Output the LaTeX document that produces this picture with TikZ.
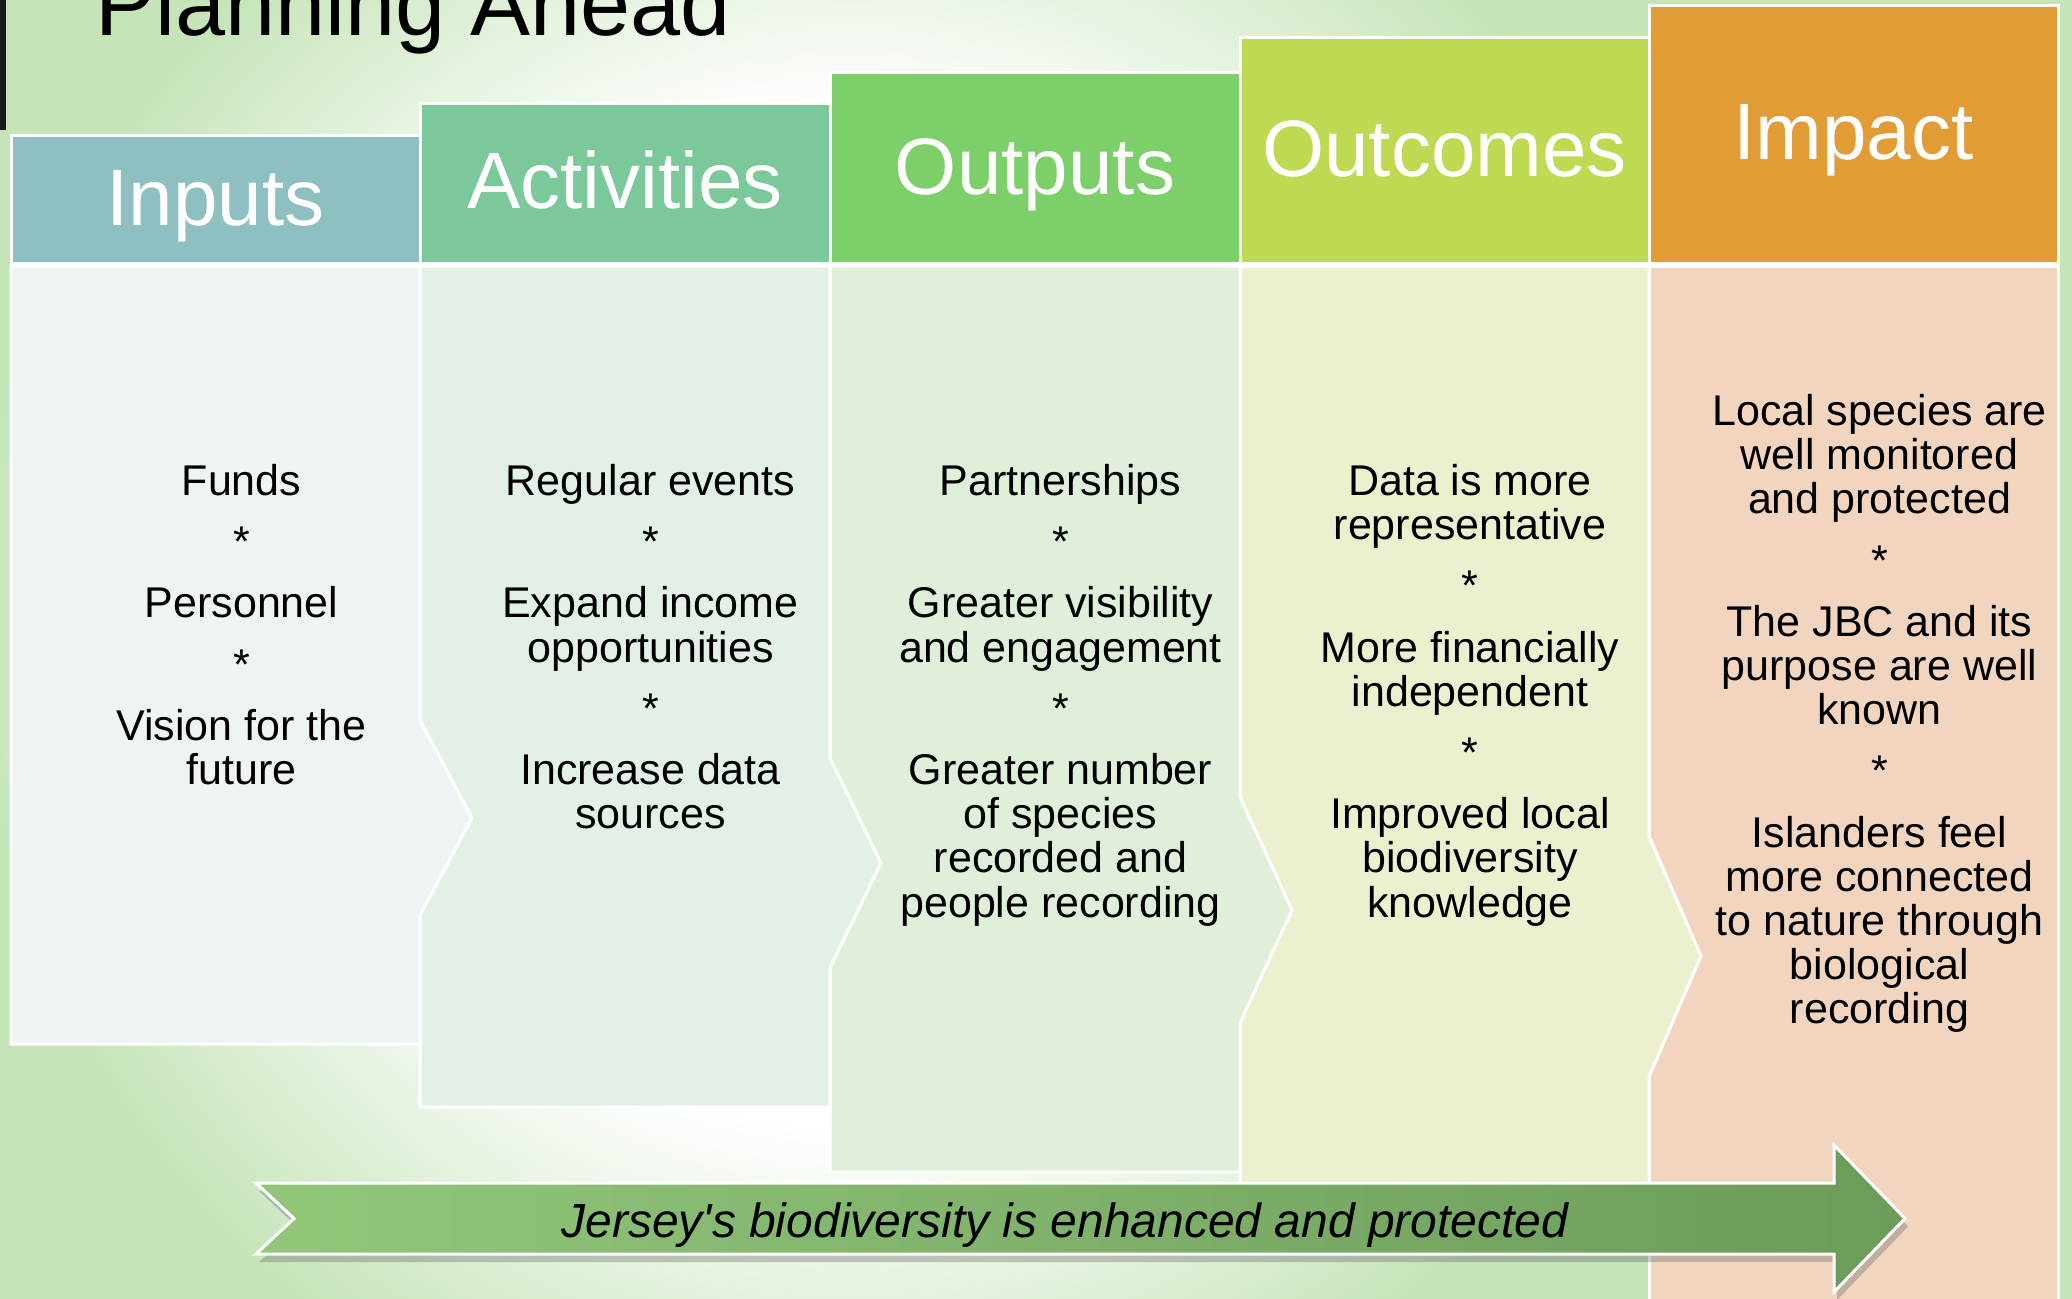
\documentclass[tikz,border=0pt]{standalone}
\usepackage{fontspec}
\setmainfont{Liberation Sans}
\usetikzlibrary{shadows}
\definecolor{bggreen}{HTML}{C5E4B8}
\definecolor{inhead}{HTML}{8FC0C1}
\definecolor{acthead}{HTML}{7BC89A}
\definecolor{outhead}{HTML}{7DCF6A}
\definecolor{ocmhead}{HTML}{BED952}
\definecolor{imphead}{HTML}{E19C36}
\definecolor{inbody}{HTML}{EEF4F3}
\definecolor{actbody}{HTML}{E3F0E6}
\definecolor{outbody}{HTML}{DFEFD9}
\definecolor{ocmbody}{HTML}{ECF0CF}
\definecolor{impbody}{HTML}{F1D5BF}
\definecolor{arrowlight}{HTML}{92C77A}
\definecolor{arrowdark}{HTML}{6C9B5A}
\pgfdeclareradialshading{bgshade}{\pgfpoint{0bp}{0bp}}{color(0bp)=(white); color(5.7bp)=(white); color(10bp)=(bggreen); color(50bp)=(bggreen)}
\tikzset{
  colbody/.style={draw=white, line width=1.5pt, line join=miter},
  colhead/.style={draw=white, line width=1.5pt},
  headtext/.style={text=white, font=\fontsize{40}{48}\selectfont, anchor=base, inner sep=0pt},
  bodytext/.style={align=center, anchor=north, inner sep=0pt, font=\fontsize{21.5}{22.1}\selectfont},
  bigarrow/.style={draw=white, line width=1.5pt, line join=miter, left color=arrowlight, right color=arrowdark,
    drop shadow={shadow xshift=1.5pt, shadow yshift=-4pt, opacity=0.35, fill=black!60}},
}
\begin{document}
\begin{tikzpicture}[x=0.5pt,y=-0.5pt]
\useasboundingbox (0,0) rectangle (2072,1298);
\clip (0,0) rectangle (2072,1298);
% background
\fill[bggreen] (0,0) rectangle (2072,1298);
\shade[shading=bgshade] (850,620) circle (1100pt);
\fill[black!90] (0,0) rectangle (6,130);
% title
\node[anchor=base west, inner sep=0pt, font=\fontsize{45}{54}\selectfont] (title) at (95,35) {Planning Ahead};
% bodies (right to left so chevrons overlap)
\path[colbody, fill=impbody] (1649,266) rectangle (2058,1330);
\path[colbody, fill=ocmbody] (1240,266) -- (1649,266) -- (1649,836) -- (1701,956) -- (1649,1077) -- (1649,1236) -- (1240,1236) -- cycle;
\path[colbody, fill=outbody] (830,266) -- (1240,266) -- (1240,797) -- (1292,910) -- (1240,1023) -- (1240,1172) -- (830,1172) -- cycle;
\path[colbody, fill=actbody] (420,266) -- (830,266) -- (830,758) -- (881,863) -- (830,968) -- (830,1107) -- (420,1107) -- cycle;
\path[colbody, fill=inbody] (11,266) -- (420,266) -- (420,720) -- (472,818) -- (420,915) -- (420,1044) -- (11,1044) -- cycle;
% headers
\path[colhead, fill=inhead] (11,135) rectangle (420,263);
\path[colhead, fill=acthead] (420,103) rectangle (830,263);
\path[colhead, fill=outhead] (830,72) rectangle (1240,263);
\path[colhead, fill=ocmhead] (1240,37) rectangle (1649,263);
\path[colhead, fill=imphead] (1649,5) rectangle (2058,263);
\node[headtext] (hin) at (215.5,225) {Inputs};
\node[headtext] (hact) at (625,208) {Activities};
\node[headtext] (hout) at (1035,194) {Outputs};
\node[headtext] (hocm) at (1444.5,176) {Outcomes};
\node[headtext] (himp) at (1853.5,159) {Impact};
% body texts
\node[bodytext] (tin) at (241.5,463) {\rule{0pt}{16pt}Funds\\[8.5pt] *\\[8.5pt] Personnel\\[8.5pt] *\\[8.5pt] Vision for the\\ future};
\node[bodytext] (tact) at (650.5,463) {\rule{0pt}{16pt}Regular events\\[8.5pt] *\\[8.5pt] Expand income\\ opportunities\\[8.5pt] *\\[8.5pt] Increase data\\ sources};
\node[bodytext] (tout) at (1060.5,463) {\rule{0pt}{16pt}Partnerships\\[8.5pt] *\\[8.5pt] Greater visibility\\ and engagement\\[8.5pt] *\\[8.5pt] Greater number\\ of species\\ recorded and\\ people recording};
\node[bodytext] (tocm) at (1470,463) {\rule{0pt}{16pt}Data is more\\ representative\\[8.5pt] *\\[8.5pt] More financially\\ independent\\[8.5pt] *\\[8.5pt] Improved local\\ biodiversity\\ knowledge};
\node[bodytext] (timp) at (1879.5,393) {\rule{0pt}{16pt}Local species are\\ well monitored\\ and protected\\[8.5pt] *\\[8.5pt] The JBC and its\\ purpose are well\\ known\\[8.5pt] *\\[8.5pt] Islanders feel\\ more connected\\ to nature through\\ biological\\ recording};
% bottom arrow
\path[bigarrow] (256,1183) -- (1834,1183) -- (1834,1145) -- (1905,1218.5) -- (1834,1292) -- (1834,1254) -- (256,1254) -- (294,1218.5) -- cycle;
\node[anchor=base, inner sep=0pt, font=\itshape\fontsize{24}{28}\selectfont] (goal) at (1065,1237) {Jersey\textquotesingle s biodiversity is enhanced and protected};
\end{tikzpicture}
\end{document}
